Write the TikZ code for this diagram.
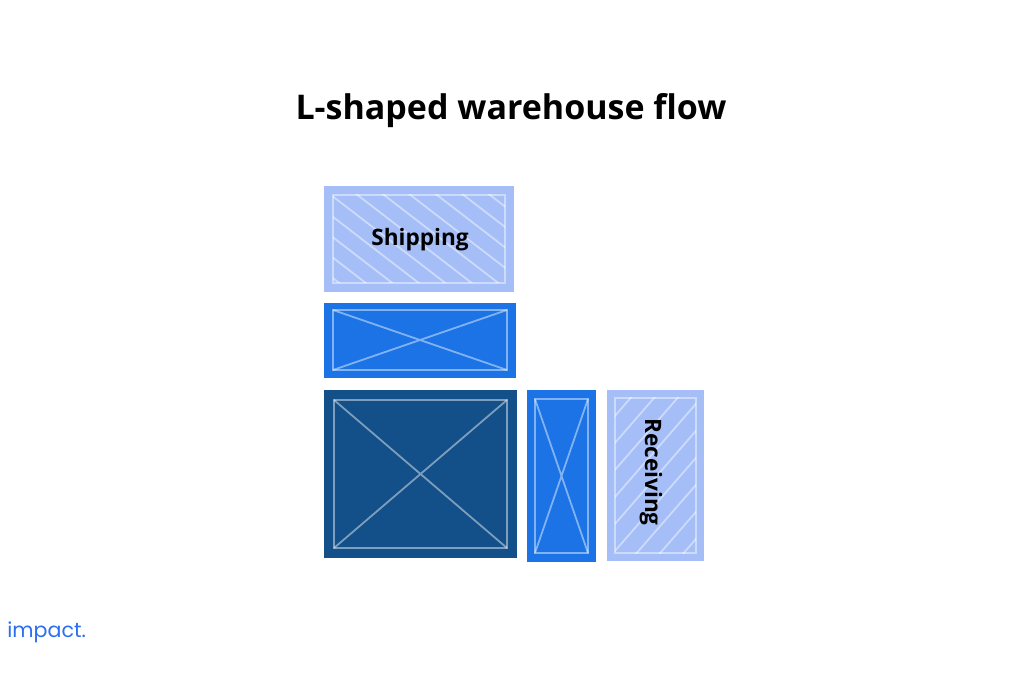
\documentclass[tikz,border=0pt]{standalone}
\usepackage{fontspec}
\setmainfont{Open Sans}
\newfontfamily\logofont{Poppins}
\usepackage{tikz}
\usetikzlibrary{ positioning, calc }
\definecolor{zonelight}{HTML}{A5BEF8}
\definecolor{zonemid}{HTML}{1B73E6}
\definecolor{zonedark}{HTML}{134F88}
\definecolor{logoblue}{HTML}{2B6FF2}

\begin{document}
\begin{tikzpicture}[
  x=0.5pt, y=-0.5pt,
  every node/.style={font=\fontsize{11.3}{13}\selectfont\bfseries},
  frame/.style={draw=white, draw opacity=0.45, line width=0.9pt},
]
  \useasboundingbox[fill=white] (0,0) rectangle (1024,679);
  \node[font=\fontsize{17}{20}\selectfont\bfseries] (title) at (511,111) {L-shaped warehouse flow};

  % shipping zone, hatched
  \fill[zonelight] (324,186) rectangle (514,292);
  \begin{scope}
    \clip (333,195) rectangle (505,283);
    \foreach \c in {-180,-153.5,...,500}
      \draw[frame] ({352+\c-200},41) -- ({352+\c+200},349);
  \end{scope}
  \draw[frame] (333,195) rectangle (505,283);
  \node (ship) at (420,240) {Shipping};

  % staging strip
  \fill[zonemid] (324,303) rectangle (516,378);
  \draw[frame] (333,310) rectangle (507,370);
  \draw[frame] (333,310) -- (507,370) (333,370) -- (507,310);

  % storage block
  \fill[zonedark] (324,390) rectangle (517,558);
  \draw[frame] (334,400) rectangle (507,548);
  \draw[frame] (334,400) -- (507,548) (334,548) -- (507,400);

  % aisle strip
  \fill[zonemid] (527,390) rectangle (596,562);
  \draw[frame] (535,399) rectangle (588,553);
  \draw[frame] (535,399) -- (588,553) (535,553) -- (588,399);

  % receiving zone, hatched
  \fill[zonelight] (607,390) rectangle (704,561);
  \begin{scope}
    \clip (615,398) rectangle (696,553);
    \foreach \c in {-120,-96.5,...,200}
      \draw[frame] ({633+\c+200},168) -- ({633+\c-200},628);
  \end{scope}
  \draw[frame] (615,398) rectangle (696,553);
  \node[rotate=-90] (recv) at (651,472) {Receiving};

  \node[anchor=west, font=\logofont\fontsize{10.3}{12}\selectfont, text=logoblue, inner sep=0pt] (logo) at (7,632) {impact.};
\end{tikzpicture}
\end{document}
